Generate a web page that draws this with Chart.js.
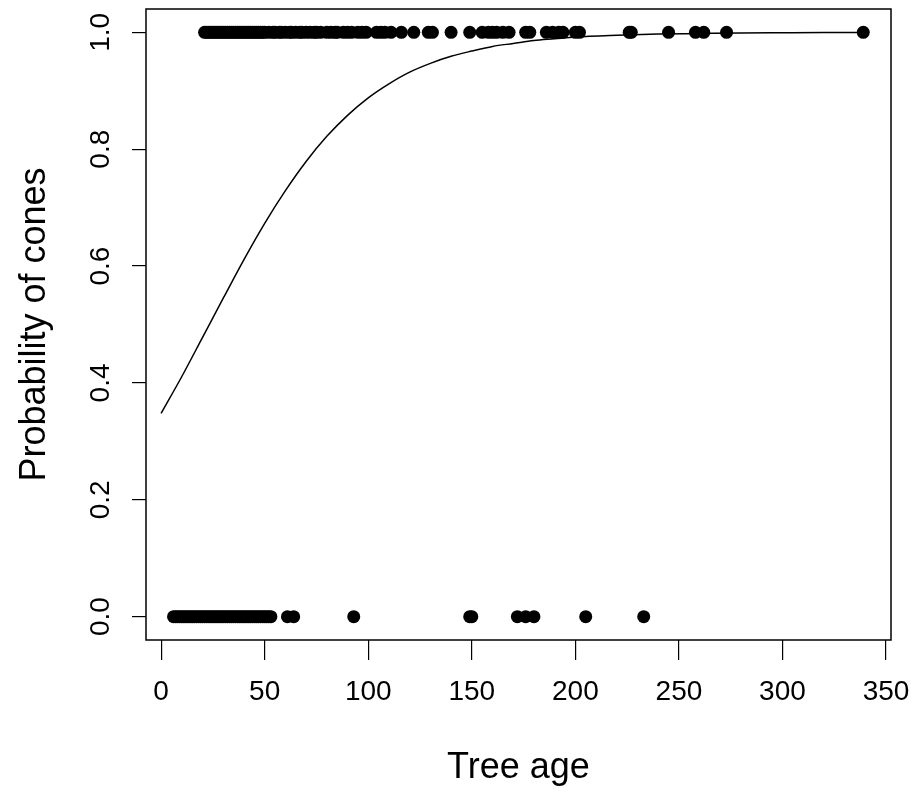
<!DOCTYPE html>
<html>
<head>
<meta charset="utf-8">
<script src="https://cdn.jsdelivr.net/npm/chart.js@4.4.1/dist/chart.umd.min.js"></script>
<style>
html,body{margin:0;padding:0;background:#fff;}
#c{display:block;}
</style>
</head>
<body>
<canvas id="c" width="914" height="793"></canvas>
<script>
// Tree ages of trees WITH cones (plotted at 1.0)
const agesWithCones = [21,22,23,24,25,26,27,28,29,30,31,32,33,34,35,36,37,38,39,40,41,42,43,44,45,46,47,48,49,50,52,54,55,57,58,60,62,63,65,67,68,70,72,74,75,77,80,82,84,85,88,90,92,95,97,99,
  104,106,108,111,116,122,129,131,140,149,155,158,160,162,165,168,176,178,186,189,192,194,200,202,226,227,245,258,262,273,339];
// Tree ages of trees WITHOUT cones (plotted at 0.0)
const agesNoCones = [6,7,8,9,10,11,12,13,14,15,16,17,18,19,20,21,22,23,24,25,26,27,28,29,30,31,32,33,34,35,36,37,38,39,40,41,42,43,44,45,46,47,48,49,50,51,52,53,
  61,64,93,149,150,172,176,180,205,233];
// Fitted probability curve
const curveAge  = [0,10,20,30,40,50,60,70,80,90,100,110,120,130,140,150,160,170,180,190,200,220,240,260,280,300,320,339];
const curveProb = [0.348,0.411,0.478,0.545,0.611,0.673,0.729,0.779,0.822,0.858,0.888,0.912,0.932,0.947,0.959,0.968,0.976,0.981,0.986,0.989,0.992,0.995,0.997,0.998,0.999,0.9994,0.9997,0.9998];
// Axis ticks
const xTicks = [0,50,100,150,200,250,300,350];
const yTicks = [0,0.2,0.4,0.6,0.8,1.0];
const yTickLabels = ['0.0','0.2','0.4','0.6','0.8','1.0'];

const FONT = "'Liberation Sans', Arial, Helvetica, sans-serif";

const boxPlugin = {
  id: 'box',
  afterDraw(chart) {
    const {ctx, chartArea: a} = chart;
    ctx.save();
    ctx.strokeStyle = '#000';
    ctx.lineWidth = 1.5;
    ctx.strokeRect(a.left, a.top, a.right - a.left, a.bottom - a.top);
    ctx.restore();
  }
};

function noPad(s) { s.paddingTop = 0; s.paddingBottom = 0; s.paddingLeft = 0; s.paddingRight = 0; }

new Chart(document.getElementById('c'), {
  type: 'scatter',
  data: {
    datasets: [
      {
        data: agesWithCones.map(a => ({x: a, y: 1})),
        backgroundColor: '#000', borderColor: '#000', borderWidth: 0,
        pointRadius: 6.5, pointHoverRadius: 6.5, showLine: false, order: 2
      },
      {
        data: agesNoCones.map(a => ({x: a, y: 0})),
        backgroundColor: '#000', borderColor: '#000', borderWidth: 0,
        pointRadius: 6.5, pointHoverRadius: 6.5, showLine: false, order: 2
      },
      {
        data: curveAge.map((a, i) => ({x: a, y: curveProb[i]})),
        showLine: true, borderColor: '#000', borderWidth: 1.5,
        pointRadius: 0, cubicInterpolationMode: 'monotone', fill: false, order: 1
      }
    ]
  },
  options: {
    responsive: false,
    animation: false,
    devicePixelRatio: 1,
    layout: {padding: {left: 0, top: 9, right: 23, bottom: 0}},
    plugins: {legend: {display: false}, tooltip: {enabled: false}},
    scales: {
      x: {
        type: 'linear', min: -7.3, max: 352.4,
        afterFit(s) { s.height = 153; noPad(s); },
        afterBuildTicks(s) { s.ticks = xTicks.map(v => ({value: v})); },
        grid: {display: true, drawOnChartArea: false, drawTicks: true, tickLength: 20, color: '#000', lineWidth: 1.2},
        border: {display: false},
        ticks: {color: '#000', font: {family: FONT, size: 28}, padding: 15, maxRotation: 0,
                callback: v => String(v)},
        title: {display: true, text: 'Tree age', color: '#000', font: {family: FONT, size: 36}, padding: {bottom: 3, top: 0}}
      },
      y: {
        type: 'linear', min: -0.04, max: 1.04,
        afterFit(s) { s.width = 146; noPad(s); },
        afterBuildTicks(s) { s.ticks = yTicks.map(v => ({value: v})); },
        grid: {display: true, drawOnChartArea: false, drawTicks: true, tickLength: 14, color: '#000', lineWidth: 1.2},
        border: {display: false},
        ticks: {color: '#000', font: {family: FONT, size: 28}, padding: 11, minRotation: 90, maxRotation: 90,
                crossAlign: 'center',
                callback: (v) => { const i = yTicks.indexOf(v); return i >= 0 ? yTickLabels[i] : ''; }},
        title: {display: true, text: 'Probability of cones', color: '#000', font: {family: FONT, size: 36}, padding: {top: 13, bottom: 0}}
      }
    }
  },
  plugins: [boxPlugin]
});
</script>
</body>
</html>
